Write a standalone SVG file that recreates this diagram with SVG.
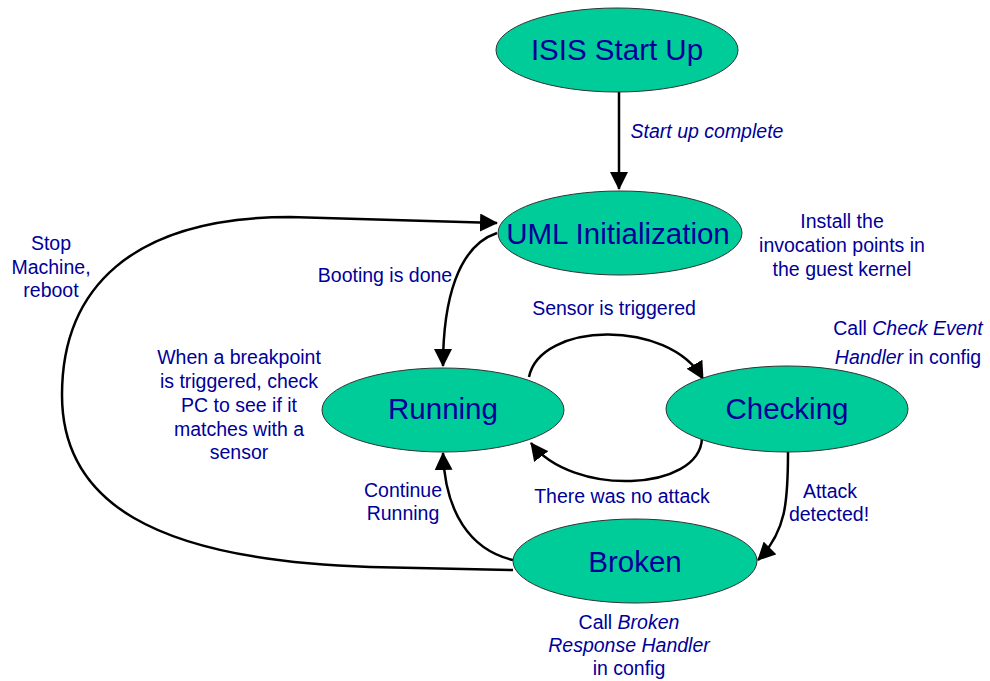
<svg xmlns="http://www.w3.org/2000/svg" width="990" height="681" viewBox="0 0 990 681">
<style>
.node{fill:#00CC99;stroke:#333;stroke-width:1}
.nl{font-family:"Liberation Sans",Arial,sans-serif;font-size:29.5px;fill:#000099;text-anchor:middle}
.lb{font-family:"Liberation Sans",Arial,sans-serif;font-size:19.5px;fill:#000099;text-anchor:middle}
.it{font-style:italic}
.edge{fill:none;stroke:#000;stroke-width:2.5}
</style>
<defs>
<marker id="ah" markerWidth="18" markerHeight="18" viewBox="0 0 18 18" refX="17" refY="9" orient="auto" markerUnits="userSpaceOnUse">
<path d="M0,0 L18,9 L0,18 Z" fill="#000"/>
</marker>
</defs>
<rect width="990" height="681" fill="#fff"/>
<g id="connectors">
<path class="edge" d="M619,92 L619,189" marker-end="url(#ah)"/>
<path class="edge" d="M497,233 C458,246 443,300 443,366" marker-end="url(#ah)"/>
<path class="edge" d="M513,570 L370,567 C150,560 62,500 62,395 C62,290 130,217 290,217 L497,223" marker-end="url(#ah)"/>
<path class="edge" d="M529,377 C540,322 668,318 703,379" marker-end="url(#ah)"/>
<path class="edge" d="M702,438 C700,492 572,497 531,443" marker-end="url(#ah)"/>
<path class="edge" d="M788,452 C788,502 786,532 758,560" marker-end="url(#ah)"/>
<path class="edge" d="M513,560 C470,550 445,512 443,453" marker-end="url(#ah)"/>
</g>
<g id="isis">
<ellipse class="node" cx="617" cy="50" rx="121" ry="42"/>
<text class="nl" x="617" y="60">ISIS Start Up</text>
</g>
<g id="uml">
<ellipse class="node" cx="620" cy="233" rx="122" ry="42"/>
<text class="nl" x="618" y="244">UML Initialization</text>
</g>
<g id="running">
<ellipse class="node" cx="443" cy="410" rx="121" ry="42"/>
<text class="nl" x="443" y="419">Running</text>
</g>
<g id="checking">
<ellipse class="node" cx="787" cy="409" rx="121" ry="43"/>
<text class="nl" x="787" y="419">Checking</text>
</g>
<g id="broken">
<ellipse class="node" cx="635" cy="561" rx="122" ry="42"/>
<text class="nl" x="635" y="572">Broken</text>
</g>
<g id="labels">
<text class="lb it" x="707" y="138">Start up complete</text>
<text class="lb" x="842" y="228">Install the</text>
<text class="lb" x="842" y="252">invocation points in</text>
<text class="lb" x="842" y="276">the guest kernel</text>
<text class="lb" x="385" y="282">Booting is done</text>
<text class="lb" x="51" y="250">Stop</text>
<text class="lb" x="51" y="274">Machine,</text>
<text class="lb" x="51" y="297">reboot</text>
<text class="lb" x="239" y="364">When a breakpoint</text>
<text class="lb" x="239" y="388">is triggered, check</text>
<text class="lb" x="239" y="412">PC to see if it</text>
<text class="lb" x="239" y="436">matches with a</text>
<text class="lb" x="239" y="459">sensor</text>
<text class="lb" x="403" y="497">Continue</text>
<text class="lb" x="403" y="520">Running</text>
<text class="lb" x="614" y="315">Sensor is triggered</text>
<text class="lb" x="908" y="335">Call <tspan class="it">Check Event</tspan></text>
<text class="lb" x="908" y="364"><tspan class="it">Handler</tspan> in config</text>
<text class="lb" x="622" y="503">There was no attack</text>
<text class="lb" x="830" y="498">Attack</text>
<text class="lb" x="829" y="521">detected!</text>
<text class="lb" x="629" y="629">Call <tspan class="it">Broken</tspan></text>
<text class="lb it" x="629" y="652">Response Handler</text>
<text class="lb" x="629" y="675">in config</text>
</g>
</svg>
